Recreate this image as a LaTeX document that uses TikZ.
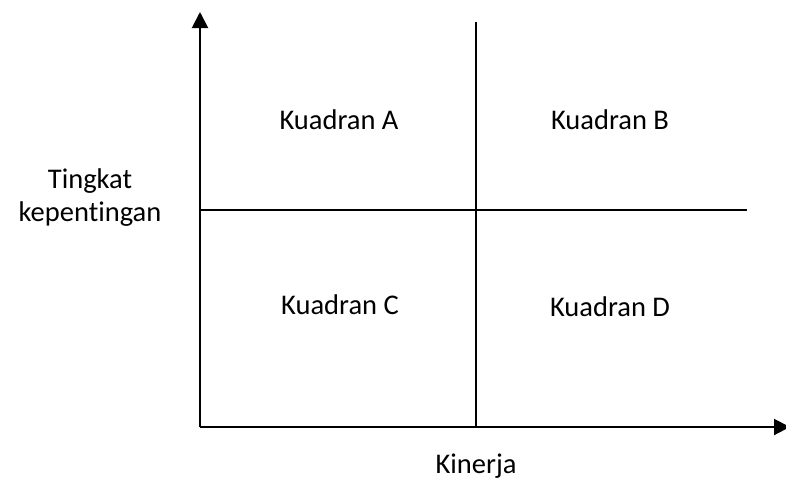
\documentclass[tikz,border=0pt]{standalone}
\usepackage{fontspec}
\setmainfont{Carlito}[Ligatures=CommonOff]
\usetikzlibrary{arrows.meta}
\begin{document}
\begin{tikzpicture}[x=1pt,y=-1pt,
  axis/.style={line width=2pt,-{Triangle[length=16pt,width=16pt]}},
  divider/.style={line width=1.2pt},
  lbl/.style={font=\fontsize{28.5}{33}\selectfont,align=center,inner sep=0pt}]
\useasboundingbox (0,0) rectangle (786,488);
\coordinate (o) at (200,427);
\coordinate (ytip) at (200,12);
\coordinate (xtip) at (790,427);
\coordinate (vtop) at (476,22);
\coordinate (vbot) at (476,427);
\coordinate (hl) at (200,210);
\coordinate (hr) at (747,210);
\draw[divider] (vtop) -- (vbot);
\draw[divider] (hl) -- (hr);
\draw[axis] (o) -- (ytip);
\draw[axis] (o) -- (xtip);
\node[lbl] (qa) at (339,120) {Kuadran A};
\node[lbl] (qb) at (610,120) {Kuadran B};
\node[lbl] (qc) at (340,305) {Kuadran C};
\node[lbl] (qd) at (610,307) {Kuadran D};
\node[lbl] (yl) at (90,198) {Tingkat\\kepentingan};
\node[lbl] (xl) at (476,466) {Kinerja};
\end{tikzpicture}
\end{document}
